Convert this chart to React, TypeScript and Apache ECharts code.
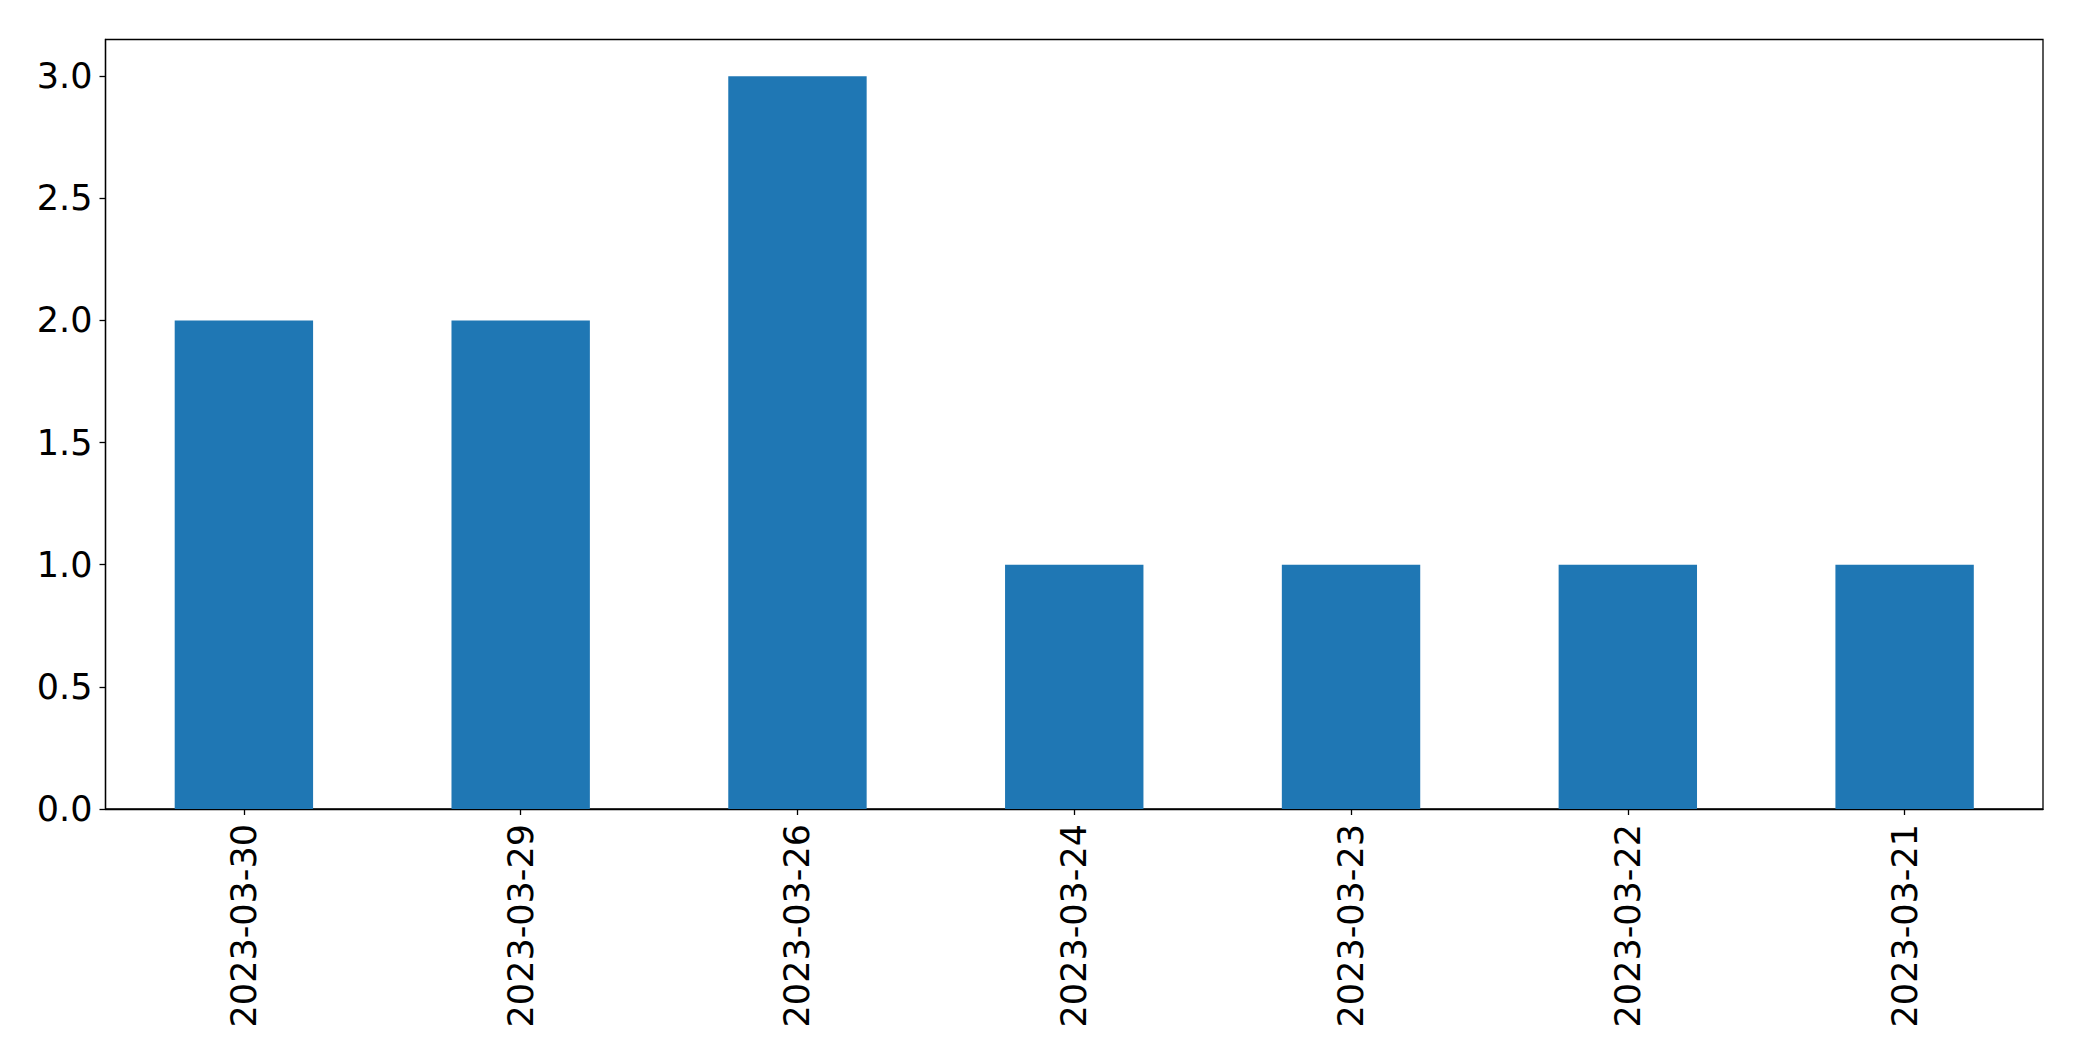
import React, { useEffect, useRef } from "react";
import * as echarts from "echarts";

const categories = ["2023-03-30", "2023-03-29", "2023-03-26", "2023-03-24", "2023-03-23", "2023-03-22", "2023-03-21"];
const counts = [2, 2, 3, 1, 1, 1, 1];
const yTicks = [0, 0.5, 1.0, 1.5, 2.0, 2.5, 3.0];

export default function App() {
  const ref = useRef<HTMLDivElement>(null);
  useEffect(() => {
    if (!ref.current) return;
    const chart = echarts.init(ref.current, null, { renderer: "svg" });
    const font = "DejaVu Sans";
    chart.setOption({
      animation: false,
      backgroundColor: "#ffffff",
      grid: {
        left: 105.5,
        right: 39,
        top: 39.5,
        bottom: 252,
        show: true,
        borderColor: "#000000",
        borderWidth: 1.3,
        backgroundColor: "transparent",
      },
      xAxis: {
        type: "category",
        data: categories,
        boundaryGap: true,
        axisLine: { show: true, lineStyle: { color: "#000", width: 1.3 } },
        axisTick: { show: true, alignWithLabel: true, length: 6, lineStyle: { color: "#000", width: 1.3 } },
        axisLabel: {
          rotate: 90,
          margin: 15,
          fontFamily: font,
          fontSize: 35,
          color: "#000",
          interval: 0,
        },
        splitLine: { show: false },
      },
      yAxis: {
        type: "value",
        min: 0,
        max: 3.15,
        interval: 0.5,
        axisLine: { show: true, lineStyle: { color: "#000", width: 1.3 } },
        axisTick: { show: true, length: 6, customValues: yTicks, lineStyle: { color: "#000", width: 1.3 } },
        axisLabel: {
          customValues: yTicks,
          margin: 13,
          fontFamily: font,
          fontSize: 35,
          color: "#000",
          formatter: (v: number) => v.toFixed(1),
        },
        splitLine: { show: false },
      },
      series: [
        {
          type: "bar",
          data: counts,
          barWidth: "50%",
          itemStyle: { color: "#1f77b4" },
        },
      ],
    });
    return () => chart.dispose();
  }, []);
  return (
    <div
      ref={ref}
      style={{ position: "absolute", left: 0, top: 0, width: 2082, height: 1061 }}
    />
  );
}
